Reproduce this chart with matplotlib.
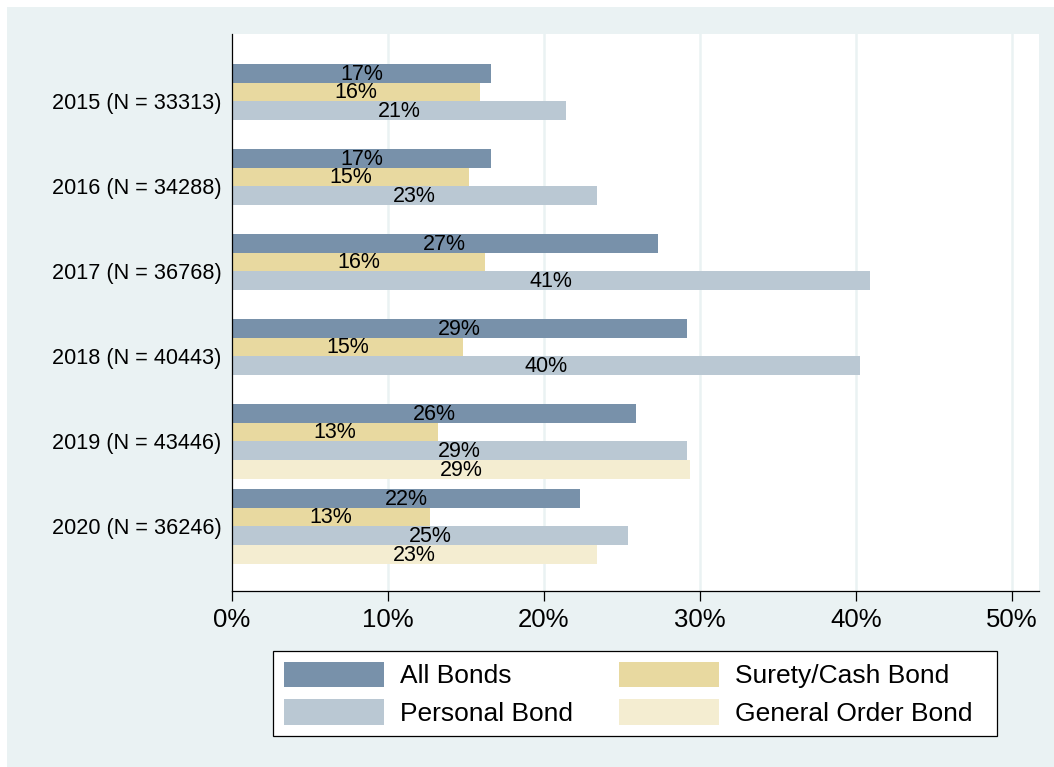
import matplotlib
matplotlib.use("Agg")
import matplotlib.pyplot as plt
from matplotlib.patches import Rectangle, Patch
import numpy as np

# data (percent)
years = ["2015 (N = 33313)", "2016 (N = 34288)", "2017 (N = 36768)",
         "2018 (N = 40443)", "2019 (N = 43446)", "2020 (N = 36246)"]
all_bonds = [16.6, 16.6, 27.3, 29.2, 25.9, 22.3]
surety_cash = [15.9, 15.2, 16.2, 14.8, 13.2, 12.7]
personal = [21.4, 23.4, 40.9, 40.3, 29.2, 25.4]
general_order = [np.nan, np.nan, np.nan, np.nan, 29.4, 23.4]

series_names = ["All Bonds", "Surety/Cash Bond", "Personal Bond", "General Order Bond"]
colors = ["#7891AA", "#E8D9A0", "#BAC8D3", "#F4EDD1"]
x_ticks = [0, 10, 20, 30, 40, 50]

plt.rcParams['font.family'] = ['Liberation Sans', 'DejaVu Sans']

W, H = 1054, 767
fig = plt.figure(figsize=(W / 100, H / 100), dpi=100)
fig.patch.set_facecolor("white")
# stata style graph region
fig.patches.append(Rectangle((7 / W, 0), 1 - 7 / W, (H - 7) / H,
                             transform=fig.transFigure, facecolor="#EAF2F3",
                             edgecolor="none", zorder=-5))
# legend box
fig.patches.append(Rectangle((273 / W, 1 - 736 / H), (997 - 273) / W, (736 - 651) / H,
                             transform=fig.transFigure, facecolor="white",
                             edgecolor="black", linewidth=0.9, zorder=-4))

ax = fig.add_axes([232 / W, (H - 591) / H, (1039 - 232) / W, (591 - 33.5) / H])
ax.set_zorder(1)
ax.set_facecolor("white")

bar_h = 0.22
offsets = [-1.5, -0.5, 0.5, 1.5]
series = [all_bonds, surety_cash, personal, general_order]
ypos = np.arange(len(years))

for vals, off, col in zip(series, offsets, colors):
    y = ypos + off * bar_h
    ax.barh(y, vals, height=bar_h, color=col, edgecolor="none", zorder=2)
    for yy, v in zip(y, vals):
        if np.isnan(v):
            continue
        ax.text(v / 2, yy + 0.01, f"{round(v)}%", ha="center", va="center",
                fontsize=15.5, color="black", zorder=3)

ax.set_ylim(5.76, -0.8)
ax.set_xlim(0, 51.75)
ax.set_yticks(ypos)
ax.set_yticklabels(years, fontsize=15.6)
ax.tick_params(axis="y", length=0, pad=7.5)
ax.set_xticks(x_ticks)
ax.set_xticklabels([f"{t}%" for t in x_ticks], fontsize=18.5)
ax.tick_params(axis="x", length=7, width=0.9, pad=5, direction="out")

for t in x_ticks[1:]:
    ax.axvline(t, color="#EAF2F3", linewidth=1.8, zorder=1)

for s in ["top", "right"]:
    ax.spines[s].set_visible(False)
for s in ["left", "bottom"]:
    ax.spines[s].set_linewidth(0.9)
    ax.spines[s].set_color("black")

handles = [Patch(facecolor=c, edgecolor="none") for c in colors]
# legend order: row 1 All Bonds / Surety, row 2 Personal / General Order
leg = fig.legend([handles[0], handles[2], handles[1], handles[3]],
                 [series_names[0], series_names[2], series_names[1], series_names[3]],
                 ncol=2, loc="upper left", bbox_to_anchor=(273 / W, 1 - 651 / H),
                 fontsize=19, frameon=False,
                 handlelength=3.8, handleheight=1.1, handletextpad=0.6,
                 columnspacing=1.75, labelspacing=0.42, borderpad=0.4,
                 borderaxespad=0)

fig.savefig("out.png", dpi=100, facecolor=fig.get_facecolor())
